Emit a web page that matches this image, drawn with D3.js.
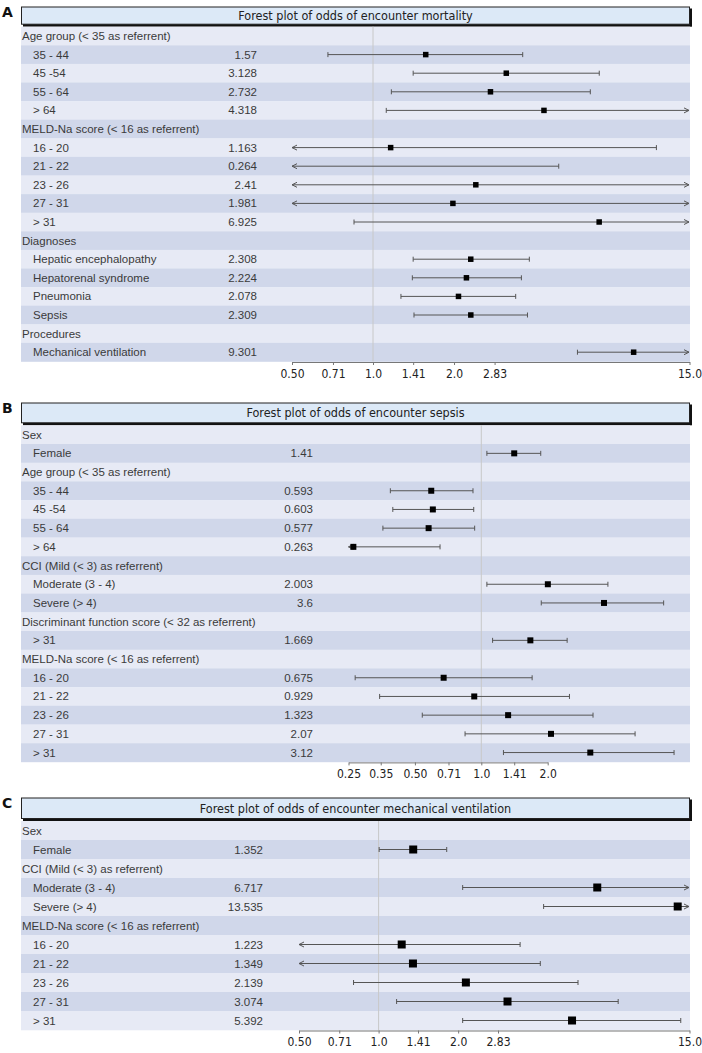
<!DOCTYPE html>
<html><head><meta charset="utf-8">
<script src="https://cdn.jsdelivr.net/npm/d3@7"></script>
<style>body{margin:0;background:#fff}svg{display:block}</style>
</head><body>
<script>
// ---------- DATA ----------
// Panel A: mortality
const aTitle = "Forest plot of odds of encounter mortality";
const aLabels = ["Age group (< 35 as referrent)","35 - 44","45 -54","55 - 64","> 64","MELD-Na score (< 16 as referrent)","16 - 20","21 - 22","23 - 26","27 - 31","> 31","Diagnoses","Hepatic encephalopathy","Hepatorenal syndrome","Pneumonia","Sepsis","Procedures","Mechanical ventilation"];
const aOR = [null,1.57,3.128,2.732,4.318,null,1.163,0.264,2.41,1.981,6.925,null,2.308,2.224,2.078,2.309,null,9.301];
const aLo = [null,0.68,1.41,1.17,1.12,null,0.3,0.2,0.3,0.3,0.85,null,1.41,1.40,1.27,1.42,null,5.75];
const aHi = [null,3.6,6.93,6.42,20,null,11.3,4.9,20,20,20,null,3.81,3.56,3.39,3.75,null,20];
const aTicks = [0.5,0.71,1.0,1.41,2.0,2.83,15.0];
const aTickLabels = ["0.50","0.71","1.0","1.41","2.0","2.83","15.0"];

// Panel B: sepsis
const bTitle = "Forest plot of odds of encounter sepsis";
const bLabels = ["Sex","Female","Age group (< 35 as referrent)","35 - 44","45 -54","55 - 64","> 64","CCI (Mild (< 3) as referrent)","Moderate (3 - 4)","Severe (> 4)","Discriminant  function  score (< 32 as referrent)","> 31","MELD-Na  score (< 16 as referrent)","16 - 20","21 - 22","23 - 26","27 - 31","> 31"];
const bOR = [null,1.41,null,0.593,0.603,0.577,0.263,null,2.003,3.6,null,1.669,null,0.675,0.929,1.323,2.07,3.12];
const bLo = [null,1.06,null,0.387,0.397,0.358,0.2,null,1.06,1.87,null,1.125,null,0.268,0.346,0.54,0.844,1.26];
const bHi = [null,1.86,null,0.917,0.924,0.933,0.65,null,3.75,6.71,null,2.45,null,1.70,2.51,3.21,4.98,7.48];
const bTicks = [0.25,0.35,0.5,0.71,1.0,1.41,2.0];
const bTickLabels = ["0.25","0.35","0.50","0.71","1.0","1.41","2.0"];

// Panel C: mechanical ventilation
const cTitle = "Forest plot of odds of encounter mechanical ventilation";
const cLabels = ["Sex","Female","CCI (Mild (< 3) as referrent)","Moderate (3 - 4)","Severe (> 4)","MELD-Na  score (< 16 as referrent)","16 - 20","21 - 22","23 - 26","27 - 31","> 31"];
const cOR = [null,1.352,null,6.717,13.535,null,1.223,1.349,2.139,3.074,5.392];
const cLo = [null,1.005,null,2.08,4.21,null,0.3,0.3,0.804,1.17,2.08];
const cHi = [null,1.81,null,20,20,null,3.43,4.09,5.68,8.06,13.9];
const cTicks = [0.5,0.71,1.0,1.41,2.0,2.83,15.0];
const cTickLabels = ["0.50","0.71","1.0","1.41","2.0","2.83","15.0"];

// ---------- LAYOUT ----------
const W = 702, H = 1053;
const svg = d3.select("body").append("svg").attr("width", W).attr("height", H);

const panels = [
  {letter:"A", title:aTitle, labels:aLabels, or:aOR, lo:aLo, hi:aHi, ticks:aTicks, tickLabels:aTickLabels,
   boxTop:6.5, rowTop:26.7, rowH:18.6, valX:257, domain:[0.5,15], range:[292,689.5], ms:5.5},
  {letter:"B", title:bTitle, labels:bLabels, or:bOR, lo:bLo, hi:bHi, ticks:bTicks, tickLabels:bTickLabels,
   boxTop:402.5, rowTop:425.3, rowH:18.7, valX:313, domain:[0.25,2.0], range:[348.5,547.7], ms:6},
  {letter:"C", title:cTitle, labels:cLabels, or:cOR, lo:cLo, hi:cHi, ticks:cTicks, tickLabels:cTickLabels,
   boxTop:797.5, rowTop:821, rowH:19.0, valX:263, domain:[0.5,15], range:[299,689.5], ms:8}
];

const left = 21, right = 690;
const light = "#e7eaf5", dark = "#d0d7ea";
const lineCol = "#555";
const condensed = "'DejaVu Sans Condensed', 'DejaVu Sans', Verdana, sans-serif";

panels.forEach(p => {
  const g = svg.append("g");
  const n = p.labels.length;
  const rowsBottom = p.rowTop + n*p.rowH;
  const x = d3.scaleLog().base(2).domain(p.domain).range(p.range);
  const plotMinX = p.range[0], plotMaxX = right - 1;

  // panel letter
  g.append("text").attr("x", 2).attr("y", p.boxTop + 10.5)
    .attr("font-family", "'DejaVu Sans', Verdana, sans-serif").attr("font-weight", "bold")
    .attr("font-size", 14).attr("fill", "#111").text(p.letter);

  // title box with shadow
  const boxH = p.rowTop - p.boxTop - 2;
  g.append("rect").attr("x", left + 2).attr("y", p.boxTop + 2).attr("width", right - left).attr("height", boxH)
    .attr("fill", "#111");
  g.append("rect").attr("x", left + 0.5).attr("y", p.boxTop + 0.5).attr("width", right - left - 1).attr("height", boxH - 1)
    .attr("fill", "#dce9f7").attr("stroke", "#222").attr("stroke-width", 1);
  g.append("text").attr("x", (left + right)/2).attr("y", p.boxTop + boxH/2 + 4.5)
    .attr("text-anchor", "middle").attr("font-family", condensed)
    .attr("font-stretch", "condensed")
    .attr("font-size", 12.5).attr("fill", "#222").text(p.title);

  // row bands
  const rows = d3.range(n);
  g.selectAll("rect.band").data(rows).join("rect")
    .attr("x", left).attr("y", i => p.rowTop + i*p.rowH)
    .attr("width", right - left).attr("height", p.rowH + 0.3)
    .attr("fill", i => i % 2 === 0 ? light : dark);

  // reference line at 1.0
  g.append("line").attr("x1", x(1)).attr("x2", x(1)).attr("y1", p.rowTop).attr("y2", rowsBottom)
    .attr("stroke", "#c8c8c8").attr("stroke-width", 1);

  // labels
  g.selectAll("text.lab").data(rows).join("text")
    .attr("x", i => p.or[i] === null ? left + 1 : left + 12)
    .attr("y", i => p.rowTop + i*p.rowH + p.rowH/2 + 4)
    .attr("font-family", "Liberation Sans, Arial, sans-serif").attr("font-size", 11.5)
    .attr("fill", "#3a3a3a").text(i => p.labels[i]);
  g.selectAll("text.val").data(rows.filter(i => p.or[i] !== null)).join("text")
    .attr("x", p.valX).attr("text-anchor", "end")
    .attr("y", i => p.rowTop + i*p.rowH + p.rowH/2 + 4)
    .attr("font-family", "Liberation Sans, Arial, sans-serif").attr("font-size", 11.5)
    .attr("fill", "#3a3a3a").text(i => String(p.or[i]));

  // CIs
  const dataRows = rows.filter(i => p.or[i] !== null);
  dataRows.forEach(i => {
    const cy = p.rowTop + i*p.rowH + p.rowH/2;
    const loOut = p.lo[i] < p.domain[0];
    const hiOut = x(p.hi[i]) > plotMaxX;
    const x1 = loOut ? plotMinX : x(p.lo[i]);
    const x2 = hiOut ? plotMaxX : x(p.hi[i]);
    g.append("line").attr("x1", x1).attr("x2", x2).attr("y1", cy).attr("y2", cy)
      .attr("stroke", lineCol).attr("stroke-width", 1);
    const cap = 2.5;
    if (loOut) {
      g.append("path").attr("d", `M${x1+5},${cy-2.5}L${x1},${cy}L${x1+5},${cy+2.5}`)
        .attr("fill", "none").attr("stroke", lineCol).attr("stroke-width", 1);
    } else {
      g.append("line").attr("x1", x1).attr("x2", x1).attr("y1", cy-cap).attr("y2", cy+cap)
        .attr("stroke", lineCol).attr("stroke-width", 1);
    }
    if (hiOut) {
      g.append("path").attr("d", `M${x2-5},${cy-2.5}L${x2},${cy}L${x2-5},${cy+2.5}`)
        .attr("fill", "none").attr("stroke", lineCol).attr("stroke-width", 1);
    } else {
      g.append("line").attr("x1", x2).attr("x2", x2).attr("y1", cy-cap).attr("y2", cy+cap)
        .attr("stroke", lineCol).attr("stroke-width", 1);
    }
    const xo = x(p.or[i]);
    if (p.or[i] >= p.domain[0] * 0.98) {
      g.append("rect").attr("x", xo - p.ms/2).attr("y", cy - p.ms/2)
        .attr("width", p.ms).attr("height", p.ms).attr("fill", "#000");
    }
  });

  // axis
  const axis = d3.axisBottom(x).tickValues(p.ticks)
    .tickFormat((d, k) => p.tickLabels[k]).tickSize(3).tickSizeOuter(0);
  const ag = g.append("g").attr("transform", `translate(0,${rowsBottom + 0.5})`).call(axis);
  ag.select(".domain").attr("stroke", "#777");
  ag.selectAll(".tick line").attr("stroke", "#777");
  ag.selectAll(".tick text").attr("font-family", condensed).attr("font-stretch", "condensed")
    .attr("font-size", 12).attr("fill", "#222").attr("dy", "0.8em");
});
</script>
</body></html>
